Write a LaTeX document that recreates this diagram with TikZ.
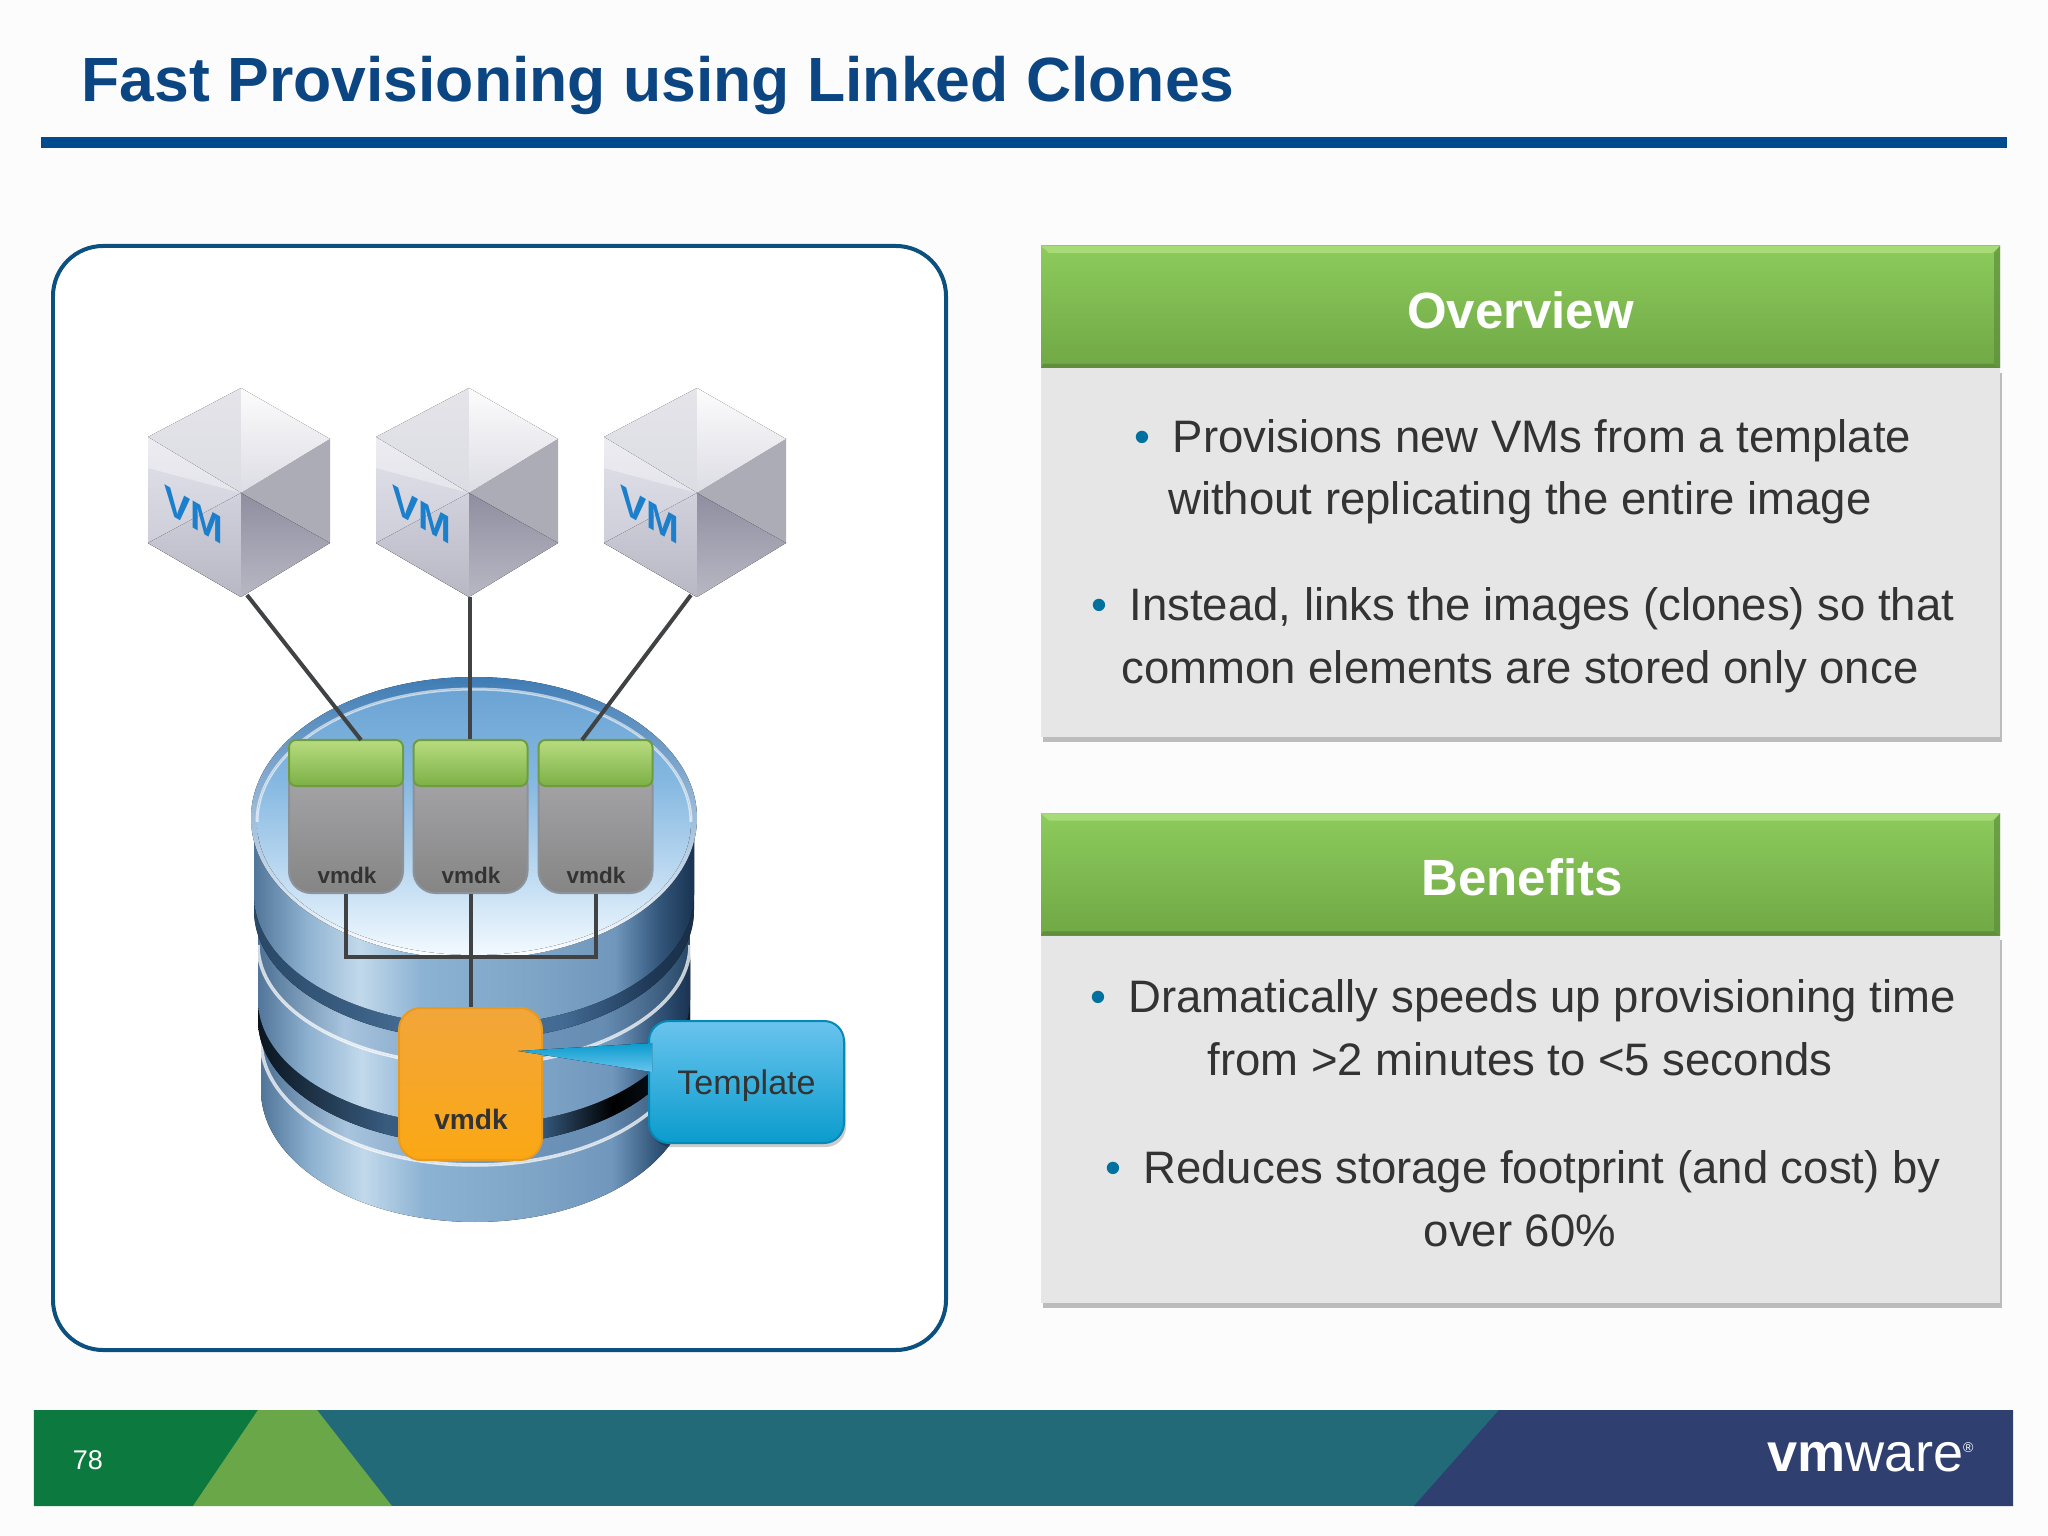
\documentclass[tikz,border=0pt]{standalone}
\usepackage{fontspec}
\setmainfont{Liberation Sans}
\usepackage{tikz}
\usetikzlibrary{shadows}

\definecolor{titleblue}{HTML}{0B4683}
\definecolor{rulebg}{HTML}{004B8D}
\definecolor{panelline}{HTML}{0C507F}
\definecolor{bodygray}{HTML}{E6E6E6}
\definecolor{bodytext}{HTML}{333333}
\definecolor{bulletblue}{HTML}{00719F}
\definecolor{linkgray}{HTML}{404244}
\definecolor{footgreen}{HTML}{0C7A3E}
\definecolor{footlime}{HTML}{69A748}
\definecolor{footteal}{HTML}{236A78}
\definecolor{footnavy}{HTML}{2E3F70}
\definecolor{hdrtop}{HTML}{8CCB5C}
\definecolor{hdrbot}{HTML}{70A845}
\definecolor{hdrlight}{HTML}{A6DB78}
\definecolor{hdredge}{HTML}{5F8F3A}
\definecolor{diskgrayt}{HTML}{A8A8AC}
\definecolor{diskgrayb}{HTML}{858585}
\definecolor{diskgrayl}{HTML}{8C9299}
\definecolor{vmtop}{HTML}{B8DC80}
\definecolor{vmbot}{HTML}{7CB046}
\definecolor{vmedge}{HTML}{6F9C42}
\definecolor{cubea}{HTML}{E4E4E9}
\definecolor{cubeb}{HTML}{DCDCE4}
\definecolor{cubec}{HTML}{E2E2EA}
\definecolor{cubed}{HTML}{C4C4D2}
\definecolor{cubee}{HTML}{ACACB6}
\definecolor{cubef}{HTML}{8E8EA0}
\definecolor{cubeg}{HTML}{B8B8C4}
\definecolor{vmblue}{HTML}{1B7FCB}
\definecolor{tmpltop}{HTML}{F2A63A}
\definecolor{tmplbot}{HTML}{FBA714}
\definecolor{tmpledge}{HTML}{E89A20}
\definecolor{calltop}{HTML}{69C4EE}
\definecolor{callbot}{HTML}{0A9CCD}
\definecolor{calledge}{HTML}{0888B4}
\definecolor{rimtop}{HTML}{3F7CB5}

\pgfdeclarehorizontalshading{steelside}{100bp}{
  rgb(0bp)=(.32,.46,.60); rgb(25bp)=(.32,.46,.60); rgb(31bp)=(.56,.70,.82);
  rgb(37bp)=(.76,.85,.92); rgb(44bp)=(.55,.70,.83); rgb(56bp)=(.50,.65,.78);
  rgb(66bp)=(.44,.59,.74); rgb(71bp)=(.20,.34,.48); rgb(75bp)=(.10,.20,.32); rgb(100bp)=(.10,.20,.32)}
\pgfdeclarehorizontalshading{steeltop}{100bp}{
  rgb(0bp)=(.30,.44,.58); rgb(25bp)=(.30,.44,.58); rgb(35bp)=(.66,.77,.87);
  rgb(50bp)=(.45,.60,.75); rgb(65bp)=(.40,.55,.70); rgb(75bp)=(.16,.28,.40); rgb(100bp)=(.16,.28,.40)}
\pgfdeclarehorizontalshading{gapblue}{100bp}{
  rgb(0bp)=(.16,.28,.40); rgb(25bp)=(.16,.28,.40); rgb(45bp)=(.28,.44,.60);
  rgb(60bp)=(.26,.42,.58); rgb(70bp)=(.12,.22,.34); rgb(75bp)=(.10,.18,.28); rgb(100bp)=(.10,.18,.28)}
\pgfdeclarehorizontalshading{gapdark}{100bp}{
  rgb(0bp)=(.04,.08,.12); rgb(25bp)=(.04,.08,.12); rgb(40bp)=(.22,.36,.50);
  rgb(58bp)=(.20,.34,.48); rgb(66bp)=(0,0,0); rgb(75bp)=(.06,.10,.16); rgb(100bp)=(.06,.10,.16)}
\pgfdeclareverticalshading{discface}{100bp}{
  rgb(0bp)=(.95,.98,1); rgb(25bp)=(.95,.98,1); rgb(42bp)=(.72,.84,.94);
  rgb(58bp)=(.52,.72,.88); rgb(75bp)=(.42,.64,.83); rgb(100bp)=(.42,.64,.83)}

\newcommand{\bul}{\hspace*{0.06cm}\textcolor{bulletblue}{•}\hspace{0.22cm}}

\tikzset{
  link/.style={draw=linkgray,line width=0.04cm},
  hdrbox/.style={rectangle,inner sep=0pt,minimum width=9.59cm,minimum height=1.22cm,
    top color=hdrtop,bottom color=hdrbot},
  hdrtxt/.style={inner sep=0pt,text=white,font=\bfseries\fontsize{14.5}{17}\selectfont},
  bodybox/.style={rectangle,inner sep=0pt,fill=bodygray,minimum width=9.59cm,
    drop shadow={shadow xshift=0.02cm,shadow yshift=-0.05cm,fill=black,opacity=.25}},
  bodytxt/.style={inner sep=0pt,align=center,text=bodytext,font=\fontsize{12.95}{17.9}\selectfont},
  vmdkbody/.style={rectangle,rounded corners=0.22cm,inner sep=0pt,minimum width=1.14cm,minimum height=1.3cm,
    top color=diskgrayt,bottom color=diskgrayb,draw=diskgrayl,line width=0.02cm},
  vmdkhead/.style={rectangle,rounded corners=0.07cm,inner sep=0pt,minimum width=1.14cm,minimum height=0.46cm,
    top color=vmtop,bottom color=vmbot,draw=vmedge,line width=0.02cm},
  vmdktxt/.style={inner sep=0pt,text=bodytext,font=\bfseries\fontsize{6.4}{8}\selectfont},
  hdrbevel/.pic={
    \fill[hdrlight] (0,0) -- (9.59,0) -- (9.51,-0.07) -- (0.08,-0.07) -- cycle;
    \fill[hdredge,opacity=.7] (9.59,0) -- (9.59,-1.22) -- (9.53,-1.18) -- (9.53,-0.07) -- cycle;
    \fill[hdredge] (0,-1.22) -- (9.59,-1.22) -- (9.53,-1.18) -- (0.02,-1.18) -- cycle;
  },
  vmcube/.pic={
    \fill[top color=cubea,bottom color=cubeb] (-0.93,0.56) -- (0,1.05) -- (0,0) -- cycle;
    \fill[top color=white!92!cubeb,bottom color=cubeb] (0.89,0.54) -- (0,1.05) -- (0,0) -- cycle;
    \fill[top color=cubec,bottom color=cubed] (-0.93,0.56) -- (0,0) -- (0,-1.04) -- (-0.93,-0.5) -- cycle;
    \fill[white,opacity=.35] (-0.93,0.56) -- (0,0) -- (-0.93,0.25) -- cycle;
    \fill[top color=cubed!55!cubec,bottom color=cubeg] (-0.93,-0.5) -- (0,0) -- (0,-1.04) -- cycle;
    \fill[fill=cubee] (0.89,0.54) -- (0,0) -- (0,-1.04) -- (0.89,-0.5) -- cycle;
    \fill[top color=cubef,bottom color=cubeg] (0.89,-0.5) -- (0,0) -- (0,-1.04) -- cycle;
    \node[transform shape,yslant=-0.58,inner sep=0pt,text=vmblue,font=\bfseries\fontsize{11.2}{13}\selectfont] (-vm) at (-0.47,-0.22){VM};
  }
}

\begin{document}
\begin{tikzpicture}
      \useasboundingbox (0,0) rectangle (20.48,-15.36);
      \fill[white!99!black] (0,0) rectangle (20.48,-15.36);

      \node[anchor=base west,inner sep=0pt,text=titleblue,font=\bfseries\fontsize{17.78}{22}\selectfont] (title) at (0.81,-1.02){Fast Provisioning using Linked Clones};
      \fill[rulebg] (0.41,-1.37) rectangle (20.07,-1.48);

      \draw[panelline,line width=0.04cm,rounded corners=0.5cm,fill=white] (0.53,-2.46) rectangle (9.46,-13.5);

      \pic (vma) at (2.41,-4.93) {vmcube};
      \pic (vmb) at (4.69,-4.93) {vmcube};
      \pic (vmc) at (6.97,-4.93) {vmcube};

      \fill[shading=steelside] (2.61,-10.4) -- (2.61,-10.9) arc[start angle=180,end angle=360,x radius=2.14cm,y radius=1.32cm] -- (6.89,-10.4) -- cycle;
      \fill[shading=steeltop] (4.75,-10.4) ellipse[x radius=2.14cm,y radius=1.25cm];
      \draw[white,opacity=.75,line width=0.035cm] (2.61,-10.4) arc[start angle=180,end angle=360,x radius=2.14cm,y radius=1.25cm];
      \fill[shading=gapdark] (2.58,-9.6) -- (2.58,-10.2) arc[start angle=180,end angle=360,x radius=2.16cm,y radius=1.25cm] -- (6.9,-9.6) -- cycle;

      \fill[shading=steelside] (2.58,-9.45) -- (2.58,-10) arc[start angle=180,end angle=360,x radius=2.16cm,y radius=1.25cm] -- (6.9,-9.45) -- cycle;
      \fill[shading=steeltop] (4.74,-9.45) ellipse[x radius=2.16cm,y radius=1.2cm];
      \draw[white,opacity=.75,line width=0.035cm] (2.58,-9.45) arc[start angle=180,end angle=360,x radius=2.16cm,y radius=1.2cm];
      \fill[shading=gapblue] (2.54,-8.4) -- (2.54,-9.1) arc[start angle=180,end angle=360,x radius=2.2cm,y radius=1.3cm] -- (6.94,-8.4) -- cycle;

      \fill[shading=steelside] (2.54,-8.18) -- (2.54,-8.95) arc[start angle=180,end angle=360,x radius=2.2cm,y radius=1.3cm] -- (6.94,-8.18) -- cycle;
      \fill[top color=rimtop,bottom color=white] (4.74,-8.18) ellipse[x radius=2.23cm,y radius=1.41cm];
      \fill[shading=discface] (4.74,-8.22) ellipse[x radius=2.17cm,y radius=1.33cm];
      \draw[white,opacity=.6,line width=0.03cm] (2.57,-8.22) arc[start angle=180,end angle=0,x radius=2.17cm,y radius=1.33cm];

      \node[vmdkbody] (bodya) at (3.46,-8.28){};
      \node[vmdkbody] (bodyb) at (4.705,-8.28){};
      \node[vmdkbody] (bodyc) at (5.955,-8.28){};
      \node[vmdkhead] (heada) at (3.46,-7.63){};
      \node[vmdkhead] (headb) at (4.705,-7.63){};
      \node[vmdkhead] (headc) at (5.955,-7.63){};
      \node[vmdktxt] (vmdka) at (3.47,-8.75){vmdk};
      \node[vmdktxt] (vmdkb) at (4.71,-8.75){vmdk};
      \node[vmdktxt] (vmdkc) at (5.96,-8.75){vmdk};

      \coordinate (ca) at (2.47,-5.95);
      \coordinate (ta) at (3.61,-7.4);
      \coordinate (cb) at (4.7,-5.97);
      \coordinate (cc) at (6.91,-5.95);
      \coordinate (tc) at (5.82,-7.4);
      \coordinate (jn) at (4.705,-9.57);
      \draw[link] (ca) -- (ta);
      \draw[link] (cb) -- (cb |- headb.north);
      \draw[link] (cc) -- (tc);

      \node[rectangle,rounded corners=0.22cm,inner sep=0pt,minimum width=1.43cm,minimum height=1.52cm,top color=tmpltop,bottom color=tmplbot,draw=tmpledge,line width=0.02cm] (tmpl) at (4.705,-10.84){};
      \node[inner sep=0pt,text=bodytext,font=\bfseries\fontsize{8}{10}\selectfont] (vmdkt) at (4.71,-11.19){vmdk};

      \draw[link] (bodya.south) |- (jn);
      \draw[link] (bodyc.south) |- (jn);
      \draw[link] (bodyb.south) -- (tmpl.north);

      \node[rectangle,rounded corners=0.2cm,inner sep=0pt,minimum width=1.95cm,minimum height=1.22cm,top color=calltop,bottom color=callbot,draw=calledge,line width=0.02cm,drop shadow={shadow xshift=0.02cm,shadow yshift=-0.04cm,fill=black,opacity=.2}] (call) at (7.465,-10.82){};
      \node[inner sep=0pt,text=bodytext,font=\fontsize{9.7}{11}\selectfont] (calltxt) at (7.465,-10.86){Template};
      \coordinate (tip) at (5.18,-10.51);
      \fill[top color=callbot,bottom color=calltop] (tip) -- (6.52,-10.43) -- (6.52,-10.72) -- cycle;

      \node[bodybox,minimum height=3.69cm] (ovbody) at (15.205,-5.525){};
      \node[hdrbox] (ovhead) at (15.205,-3.07){};
      \pic (ovbevel) at (10.41,-2.46) {hdrbevel};
      \node[hdrtxt] (ovtxt) at (15.205,-3.1){Overview};
      \node[bodytxt,anchor=base] (ova) at (15.2,-5.15){\bul Provisions new VMs from a template\\without replicating the entire image};
      \node[bodytxt,anchor=base] (ovb) at (15.2,-6.83){\bul Instead, links the images (clones) so that\\common elements are stored only once};

      \node[bodybox,minimum height=3.68cm] (bnbody) at (15.205,-11.19){};
      \node[hdrbox] (bnhead) at (15.205,-8.745){};
      \pic (bnbevel) at (10.41,-8.135) {hdrbevel};
      \node[hdrtxt] (bntxt) at (15.22,-8.775){Benefits};
      \node[bodytxt,anchor=base] (bna) at (15.2,-10.75){\bul Dramatically speeds up provisioning time\\from >2 minutes to <5 seconds};
      \node[bodytxt,anchor=base] (bnb) at (15.2,-12.46){\bul Reduces storage footprint (and cost) by\\over 60\%};

      \fill[footteal] (0.34,-14.1) rectangle (20.13,-15.06);
      \fill[footgreen] (0.34,-14.1) -- (2.58,-14.1) -- (1.93,-15.06) -- (0.34,-15.06) -- cycle;
      \fill[footlime] (2.58,-14.1) -- (3.17,-14.1) -- (3.92,-15.06) -- (1.93,-15.06) -- cycle;
      \fill[footnavy] (14.99,-14.1) -- (20.13,-14.1) -- (20.13,-15.06) -- (14.14,-15.06) -- cycle;
      \node[inner sep=0pt,text=white,font=\fontsize{7.7}{9}\selectfont] (pageno) at (0.88,-14.6){78};
      \node[anchor=east,inner sep=0pt,text=white,font=\fontsize{15.4}{18}\selectfont] (logo) at (19.76,-14.57){{\bfseries vm}ware\textsuperscript{\fontsize{4}{4}\selectfont ®}};
    \end{tikzpicture}
\end{document}
